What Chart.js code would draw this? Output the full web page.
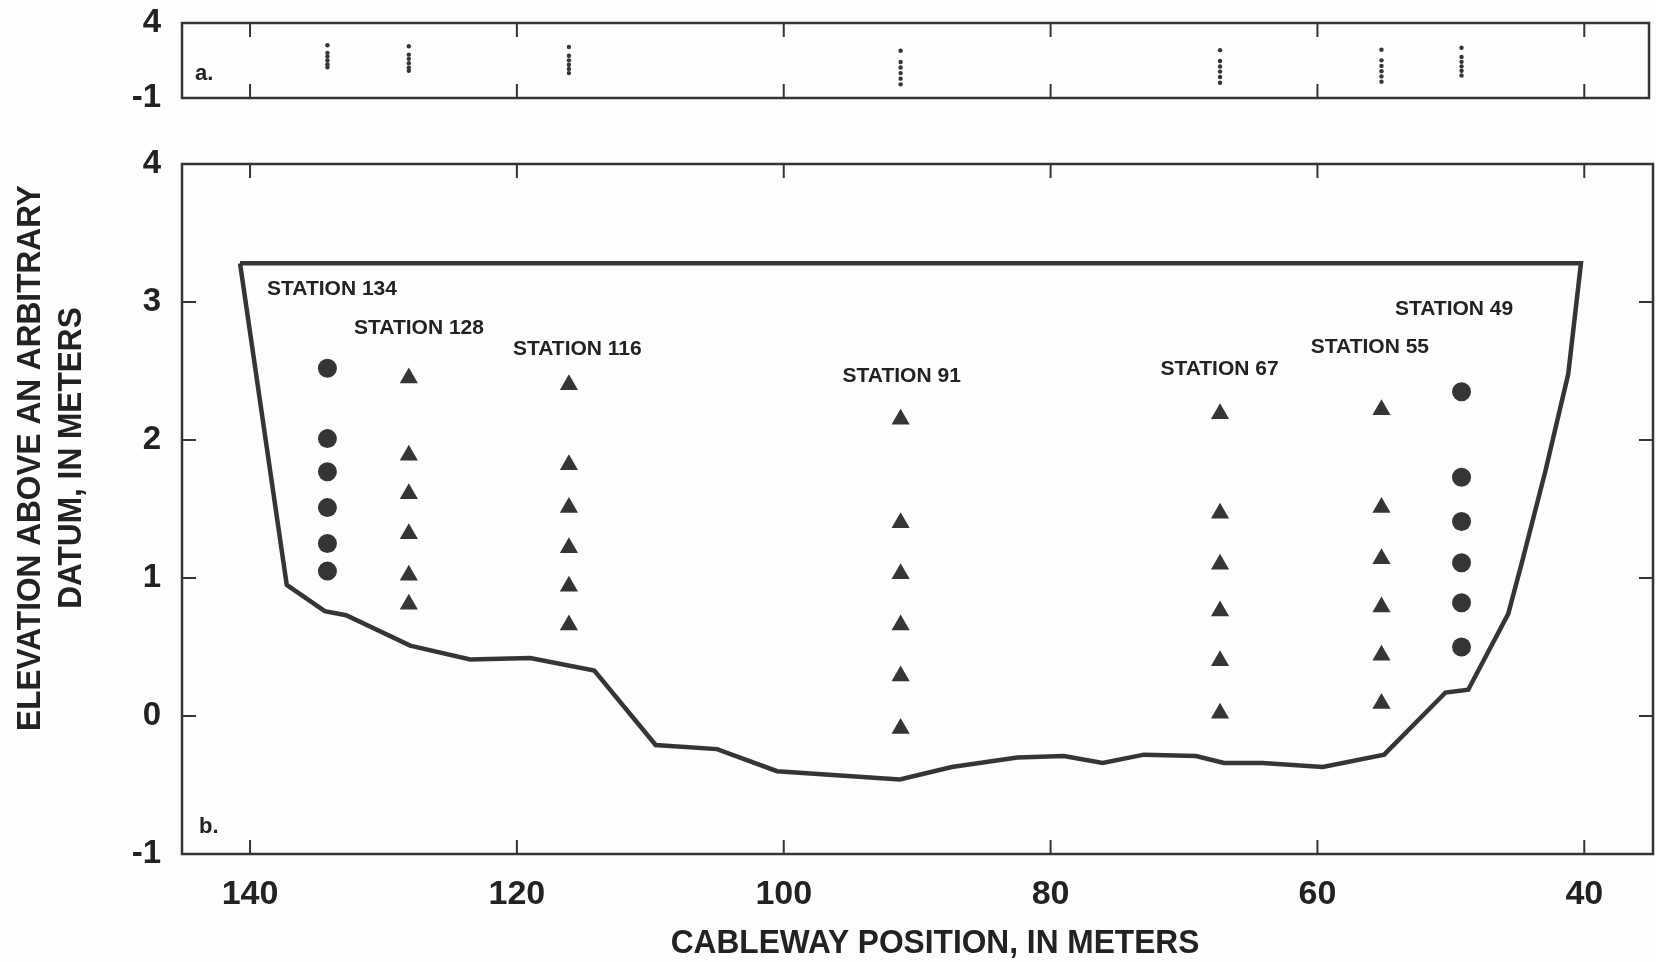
<!DOCTYPE html>
<html lang="en">
<head>
  <meta charset="UTF-8" />
  <title>Velocity sampling stations, cableway cross section</title>
  <script src="https://cdn.jsdelivr.net/npm/chart.js"></script>
  <style>
    html, body { margin: 0; padding: 0; background: #fdfdfd; }
    #wrap { position: relative; width: 1656px; height: 962px; overflow: hidden; }
    #wrap canvas { position: absolute; left: 0; top: 0; }
    #stripChart { pointer-events: none; }
  </style>
</head>
<body>
  <div id="wrap">
    <canvas id="sectionChart" width="1656" height="962"></canvas>
    <canvas id="stripChart" width="1656" height="130"></canvas>
  </div>

  <script>
    // ---- data ----
    const xTicks = [140, 120, 100, 80, 60, 40];
    const yTicks = [-1, 0, 1, 2, 3, 4];
    const stripYTicks = [-1, 4];

    // channel outline: water surface, right bank, bed, left bank
    const bedX = [140.75, 40.25, 41.2, 42.9, 44.6, 45.7, 48.7, 50.4, 55.0, 59.6, 64.1, 67.0, 69.1, 73.0, 76.1,
                  79.0, 82.5, 87.4, 91.3, 100.5, 105.0, 109.6, 114.2, 119.0, 123.5, 128.0, 132.8, 134.4, 137.25, 140.75];
    const bedY = [3.28, 3.28, 2.48, 1.78, 1.14, 0.74, 0.19, 0.17, -0.28, -0.37, -0.34, -0.34, -0.29, -0.28, -0.34,
                  -0.29, -0.30, -0.37, -0.46, -0.40, -0.24, -0.21, 0.33, 0.42, 0.41, 0.51, 0.73, 0.76, 0.95, 3.28];

    const stationNames = ['STATION 134', 'STATION 128', 'STATION 116', 'STATION 91', 'STATION 67', 'STATION 55', 'STATION 49'];
    const stationX = [134.2, 128.1, 116.1, 91.24, 67.3, 55.2, 49.2];
    const sampleY = [
      [2.52, 2.01, 1.77, 1.51, 1.25, 1.05],
      [2.45, 1.89, 1.61, 1.32, 1.02, 0.81],
      [2.40, 1.82, 1.51, 1.22, 0.94, 0.66],
      [2.15, 1.40, 1.03, 0.66, 0.29, -0.09],
      [2.19, 1.47, 1.10, 0.76, 0.40, 0.02],
      [2.22, 1.51, 1.14, 0.79, 0.44, 0.09],
      [2.35, 1.73, 1.41, 1.11, 0.82, 0.50]
    ];
    // where each station name sits (data units)
    const labelX = [133.86, 127.34, 115.47, 91.16, 67.34, 56.07, 49.76];
    const labelY = [3.09, 2.81, 2.66, 2.46, 2.51, 2.67, 2.95];

    // ---- look ----
    const INK = '#353535';
    const TEXT = '#222';
    const FONT = '"Liberation Sans", Arial, sans-serif';
    const circleStations = ['STATION 134', 'STATION 49'];

    const bedPoints = bedX.map((x, i) => ({ x, y: bedY[i] }));
    const stationPoints = stationX.map((x, i) => sampleY[i].map(y => ({ x, y })));

    function drawSquashed(ctx, text, x, y, font, sx, rotate) {
      ctx.save();
      ctx.font = font;
      ctx.fillStyle = TEXT;
      ctx.textAlign = 'center';
      ctx.textBaseline = 'alphabetic';
      ctx.translate(x, y);
      if (rotate) ctx.rotate(-Math.PI / 2);
      ctx.scale(sx, 1);
      ctx.fillText(text, 0, 0);
      ctx.restore();
    }

    // box round the plot with inward tick marks on all sides
    const frameTicks = {
      id: 'frameTicks',
      afterDatasetsDraw(chart, args, opts) {
        const { ctx, chartArea: a, scales: { x, y } } = chart;
        ctx.save();
        ctx.strokeStyle = INK;
        ctx.lineWidth = 2.5;
        ctx.strokeRect(a.left, a.top, a.right - a.left, a.bottom - a.top);
        ctx.lineWidth = 2;
        ctx.beginPath();
        x.ticks.forEach(t => {
          const px = x.getPixelForValue(t.value);
          ctx.moveTo(px, a.top); ctx.lineTo(px, a.top + opts.len);
          ctx.moveTo(px, a.bottom); ctx.lineTo(px, a.bottom - opts.len);
        });
        if (opts.yTicks) {
          y.ticks.forEach(t => {
            const py = y.getPixelForValue(t.value);
            ctx.moveTo(a.left, py); ctx.lineTo(a.left + opts.len, py);
            ctx.moveTo(a.right, py); ctx.lineTo(a.right - opts.len, py);
          });
        }
        ctx.stroke();
        ctx.fillStyle = TEXT;
        ctx.font = 'bold 22px ' + FONT;
        ctx.textAlign = 'left';
        ctx.textBaseline = 'alphabetic';
        ctx.fillText(opts.tag, a.left + opts.tagDx, a.bottom - opts.tagDy);
        ctx.restore();
      }
    };

    const stationLabels = {
      id: 'stationLabels',
      afterDatasetsDraw(chart) {
        const { ctx, scales: { x, y } } = chart;
        ctx.save();
        ctx.fillStyle = TEXT;
        ctx.font = 'bold 21px ' + FONT;
        ctx.textAlign = 'center';
        ctx.textBaseline = 'middle';
        stationNames.forEach((name, i) => {
          ctx.fillText(name, x.getPixelForValue(labelX[i]), y.getPixelForValue(labelY[i]));
        });
        ctx.restore();
      }
    };

    const axisTitles = {
      id: 'axisTitles',
      afterDraw(chart) {
        const ctx = chart.ctx;
        drawSquashed(ctx, 'CABLEWAY POSITION, IN METERS', 935, 953, 'bold 33px ' + FONT, 0.96, false);
        drawSquashed(ctx, 'ELEVATION ABOVE AN ARBITRARY', 40, 458, 'bold 34px ' + FONT, 0.93, true);
        drawSquashed(ctx, 'DATUM, IN METERS', 81, 458, 'bold 34px ' + FONT, 0.93, true);
      }
    };

    function xScale(showLabels, height, min) {
      return {
        type: 'linear', reverse: true, min, max: 145.1,
        afterBuildTicks: s => { s.ticks = xTicks.map(v => ({ value: v })); },
        afterFit: s => { s.height = height; s.paddingLeft = 0; s.paddingRight = 0; },
        grid: { display: false, drawTicks: false },
        border: { display: false },
        ticks: { display: showLabels, padding: 20, color: TEXT, font: { family: FONT, size: 34, weight: 'bold' } }
      };
    }

    function yScale(values) {
      return {
        type: 'linear', min: -1, max: 4,
        afterBuildTicks: s => { s.ticks = values.map(v => ({ value: v })); },
        afterFit: s => { s.width = 182; s.paddingTop = 0; s.paddingBottom = 0; },
        grid: { display: false, drawTicks: false },
        border: { display: false },
        ticks: { padding: 21, color: TEXT, font: { family: FONT, size: 33, weight: 'bold' } }
      };
    }

    // ---- lower panel: cross section with sample points ----
    const sectionSets = [{
      data: bedPoints, showLine: true, pointRadius: 0,
      borderColor: INK, borderWidth: 4.5, fill: false, tension: 0
    }];
    stationNames.forEach((name, i) => {
      sectionSets.push({
        data: stationPoints[i],
        pointStyle: circleStations.includes(name) ? 'circle' : 'triangle',
        pointRadius: circleStations.includes(name) ? 9.5 : 10.5,
        backgroundColor: INK, borderWidth: 0
      });
    });

    new Chart(document.getElementById('sectionChart'), {
      type: 'scatter',
      data: { datasets: sectionSets },
      options: {
        responsive: false, animation: false,
        layout: { autoPadding: false, padding: { top: 164, right: 3, left: 0, bottom: 0 } },
        plugins: {
          legend: { display: false }, tooltip: { enabled: false },
          frameTicks: { len: 14, yTicks: true, tag: 'b.', tagDx: 17, tagDy: 21 }
        },
        scales: { x: xScale(true, 108, 34.85), y: yScale(yTicks) }
      },
      plugins: [frameTicks, stationLabels, axisTitles]
    });

    // ---- upper panel: the same sample points at compressed scale ----
    new Chart(document.getElementById('stripChart'), {
      type: 'scatter',
      data: {
        datasets: stationPoints.map(pts => ({
          data: pts, pointStyle: 'circle', pointRadius: 2.2,
          backgroundColor: INK, borderWidth: 0
        }))
      },
      options: {
        responsive: false, animation: false,
        layout: { autoPadding: false, padding: { top: 23, right: 7, left: 0, bottom: 0 } },
        plugins: {
          legend: { display: false }, tooltip: { enabled: false },
          frameTicks: { len: 14, yTicks: false, tag: 'a.', tagDx: 13, tagDy: 18 }
        },
        scales: { x: xScale(false, 32, 35.15), y: yScale(stripYTicks) }
      },
      plugins: [frameTicks]
    });
  </script>
</body>
</html>
